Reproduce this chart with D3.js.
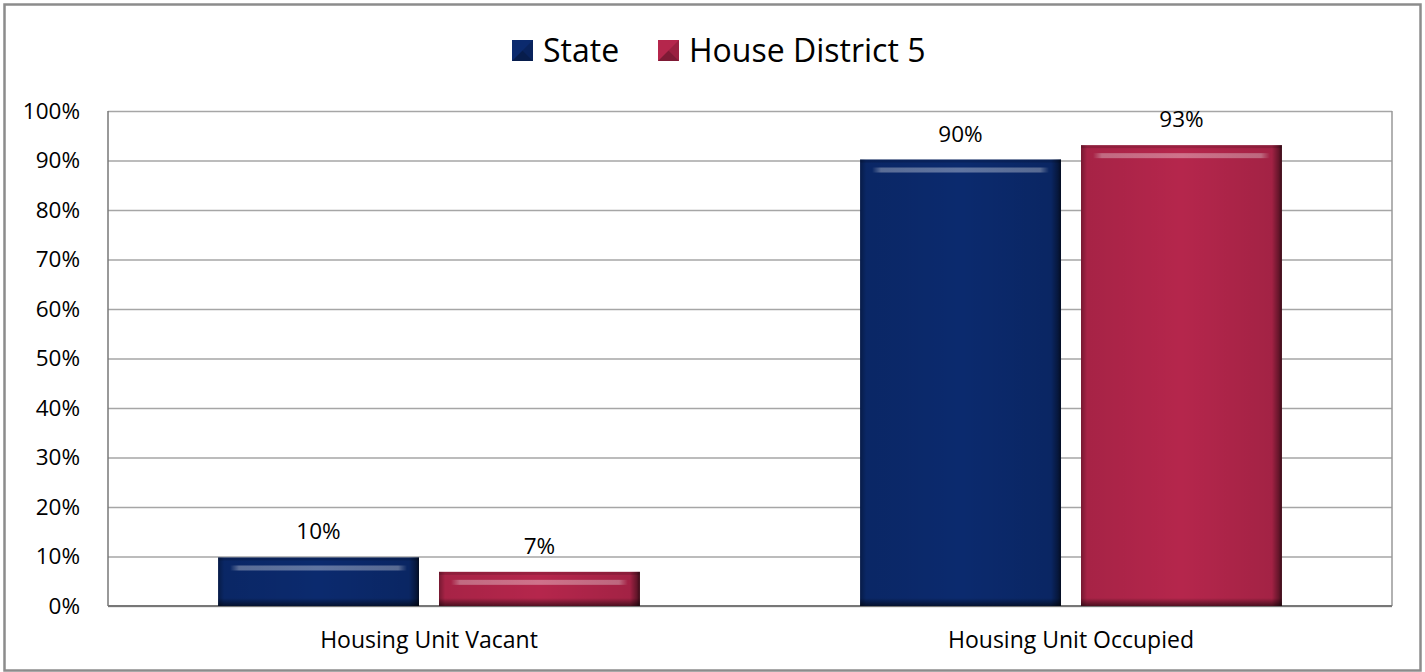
<!DOCTYPE html>
<html><head><meta charset="utf-8">
<script src="https://cdn.jsdelivr.net/npm/d3@7"></script>
<style>body{margin:0;background:#fff}svg{display:block}</style>
</head><body><svg id="c" width="1425" height="672"></svg>
<script>
const categories = ["Housing Unit Vacant", "Housing Unit Occupied"];
const seriesNames = ["State", "House District 5"];
const stateValues = [9.8, 90.2];
const districtValues = [6.9, 93.1];
const yTicks = [0,10,20,30,40,50,60,70,80,90,100];
const colors = ["#0b2a6e", "#b5264c"];

const svg = d3.select("#c");
const font = "'Open Sans', 'Noto Sans', sans-serif";
const m = {l:108, r:1392, t:111, b:606};

// outer border
svg.append("rect").attr("x",4.5).attr("y",4.5).attr("width",1416).attr("height",666)
  .attr("fill","#fff").attr("stroke","#8c8c8c").attr("stroke-width",2.5);

const x0 = d3.scaleBand().domain(categories).range([m.l, m.r]).paddingInner(0).paddingOuter(0);
const bw0 = x0.bandwidth();
const x1 = d3.scaleBand().domain(seriesNames).range([bw0*0.1715, bw0*0.8285]).paddingInner(0.0905).paddingOuter(0);
const y = d3.scaleLinear().domain([0,100]).range([m.b, m.t]);

// gridlines
const yAxis = d3.axisLeft(y).tickValues(yTicks).tickSize(-(m.r-m.l)).tickFormat(d => d + "%");
const ga = svg.append("g").attr("transform",`translate(${m.l},0)`).call(yAxis);
ga.select(".domain").remove();
ga.selectAll(".tick line").attr("stroke","#a6a6a6").attr("stroke-width",1.5);
ga.selectAll(".tick text").attr("x",-28).attr("font-family",font).attr("font-size",22.5).attr("fill","#000");

// plot area borders
svg.append("line").attr("x1",m.l).attr("x2",m.l).attr("y1",m.t).attr("y2",m.b).attr("stroke","#777").attr("stroke-width",1.5);
svg.append("line").attr("x1",m.r).attr("x2",m.r).attr("y1",m.t).attr("y2",m.b).attr("stroke","#999").attr("stroke-width",1.5);
svg.append("line").attr("x1",m.l).attr("x2",m.r).attr("y1",m.b).attr("y2",m.b).attr("stroke","#777").attr("stroke-width",2);

// bevel defs
const defs = svg.append("defs");
const hg = defs.append("linearGradient").attr("id","hedge").attr("x1","0").attr("x2","1").attr("y1","0").attr("y2","0");
[[0,0.35],[0.03,0.08],[0.5,0],[0.95,0.1],[0.985,0.45],[1,0.7]].forEach(([o,a])=>hg.append("stop").attr("offset",o).attr("stop-color","#000").attr("stop-opacity",a));
const vb = defs.append("linearGradient").attr("id","vbot").attr("x1","0").attr("x2","0").attr("y1","0").attr("y2","1");
[[0,0],[1,0.55]].forEach(([o,a])=>vb.append("stop").attr("offset",o).attr("stop-color","#000").attr("stop-opacity",a));
const hl = defs.append("linearGradient").attr("id","hl").attr("x1","0").attr("x2","1").attr("y1","0").attr("y2","0");
[[0,0],[0.05,0.35],[0.95,0.35],[1,0]].forEach(([o,a])=>hl.append("stop").attr("offset",o).attr("stop-color","#fff").attr("stop-opacity",a));

const data = [];
categories.forEach((c,i)=>{
  data.push({cat:c, s:seriesNames[0], v:stateValues[i], col:colors[0]});
  data.push({cat:c, s:seriesNames[1], v:districtValues[i], col:colors[1]});
});

const bars = svg.append("g").selectAll("g").data(data).join("g")
  .attr("transform", d => `translate(${x0(d.cat)+x1(d.s)},0)`);
const bw = x1.bandwidth();
bars.append("rect").attr("x",0).attr("y",d=>y(d.v)).attr("width",bw).attr("height",d=>m.b-y(d.v)).attr("fill",d=>d.col);
bars.append("rect").attr("x",0).attr("y",d=>y(d.v)).attr("width",bw).attr("height",3).attr("fill","#000").attr("opacity",0.15);
bars.append("rect").attr("x",12).attr("y",d=>y(d.v)+8).attr("width",bw-24).attr("height",5).attr("fill","url(#hl)");
bars.append("rect").attr("x",0).attr("y",d=>m.b-8).attr("width",bw).attr("height",8).attr("fill","url(#vbot)");
bars.append("rect").attr("x",0).attr("y",d=>y(d.v)).attr("width",bw).attr("height",d=>m.b-y(d.v)).attr("fill","url(#hedge)");
bars.append("text").attr("x",bw/2).attr("y",d=>y(d.v)-18).attr("text-anchor","middle")
  .attr("font-family",font).attr("font-size",22.5).attr("fill","#000").text(d=>Math.round(d.v)+"%");

// category labels
svg.append("g").selectAll("text").data(categories).join("text")
  .attr("x",d=>x0(d)+x0.bandwidth()/2).attr("y",648).attr("text-anchor","middle")
  .attr("font-family",font).attr("font-size",23).attr("fill","#000").text(d=>d);

// legend
const leg = [{n:seriesNames[0], c:colors[0], x:512},{n:seriesNames[1], c:colors[1], x:658}];
const lg = svg.append("g").selectAll("g").data(leg).join("g").attr("transform",d=>`translate(${d.x},40)`);
lg.append("rect").attr("width",21).attr("height",21).attr("fill",d=>d.c);
lg.append("path").attr("d","M0,21 L10.5,10.5 L21,21 Z").attr("fill","#000").attr("opacity",0.3);
lg.append("path").attr("d","M21,0 L10.5,10.5 L21,21 Z").attr("fill","#000").attr("opacity",0.15);
lg.append("text").attr("x",31).attr("y",21.5).attr("font-family",font).attr("font-size",32).attr("fill","#000").text(d=>d.n);
</script></body></html>
